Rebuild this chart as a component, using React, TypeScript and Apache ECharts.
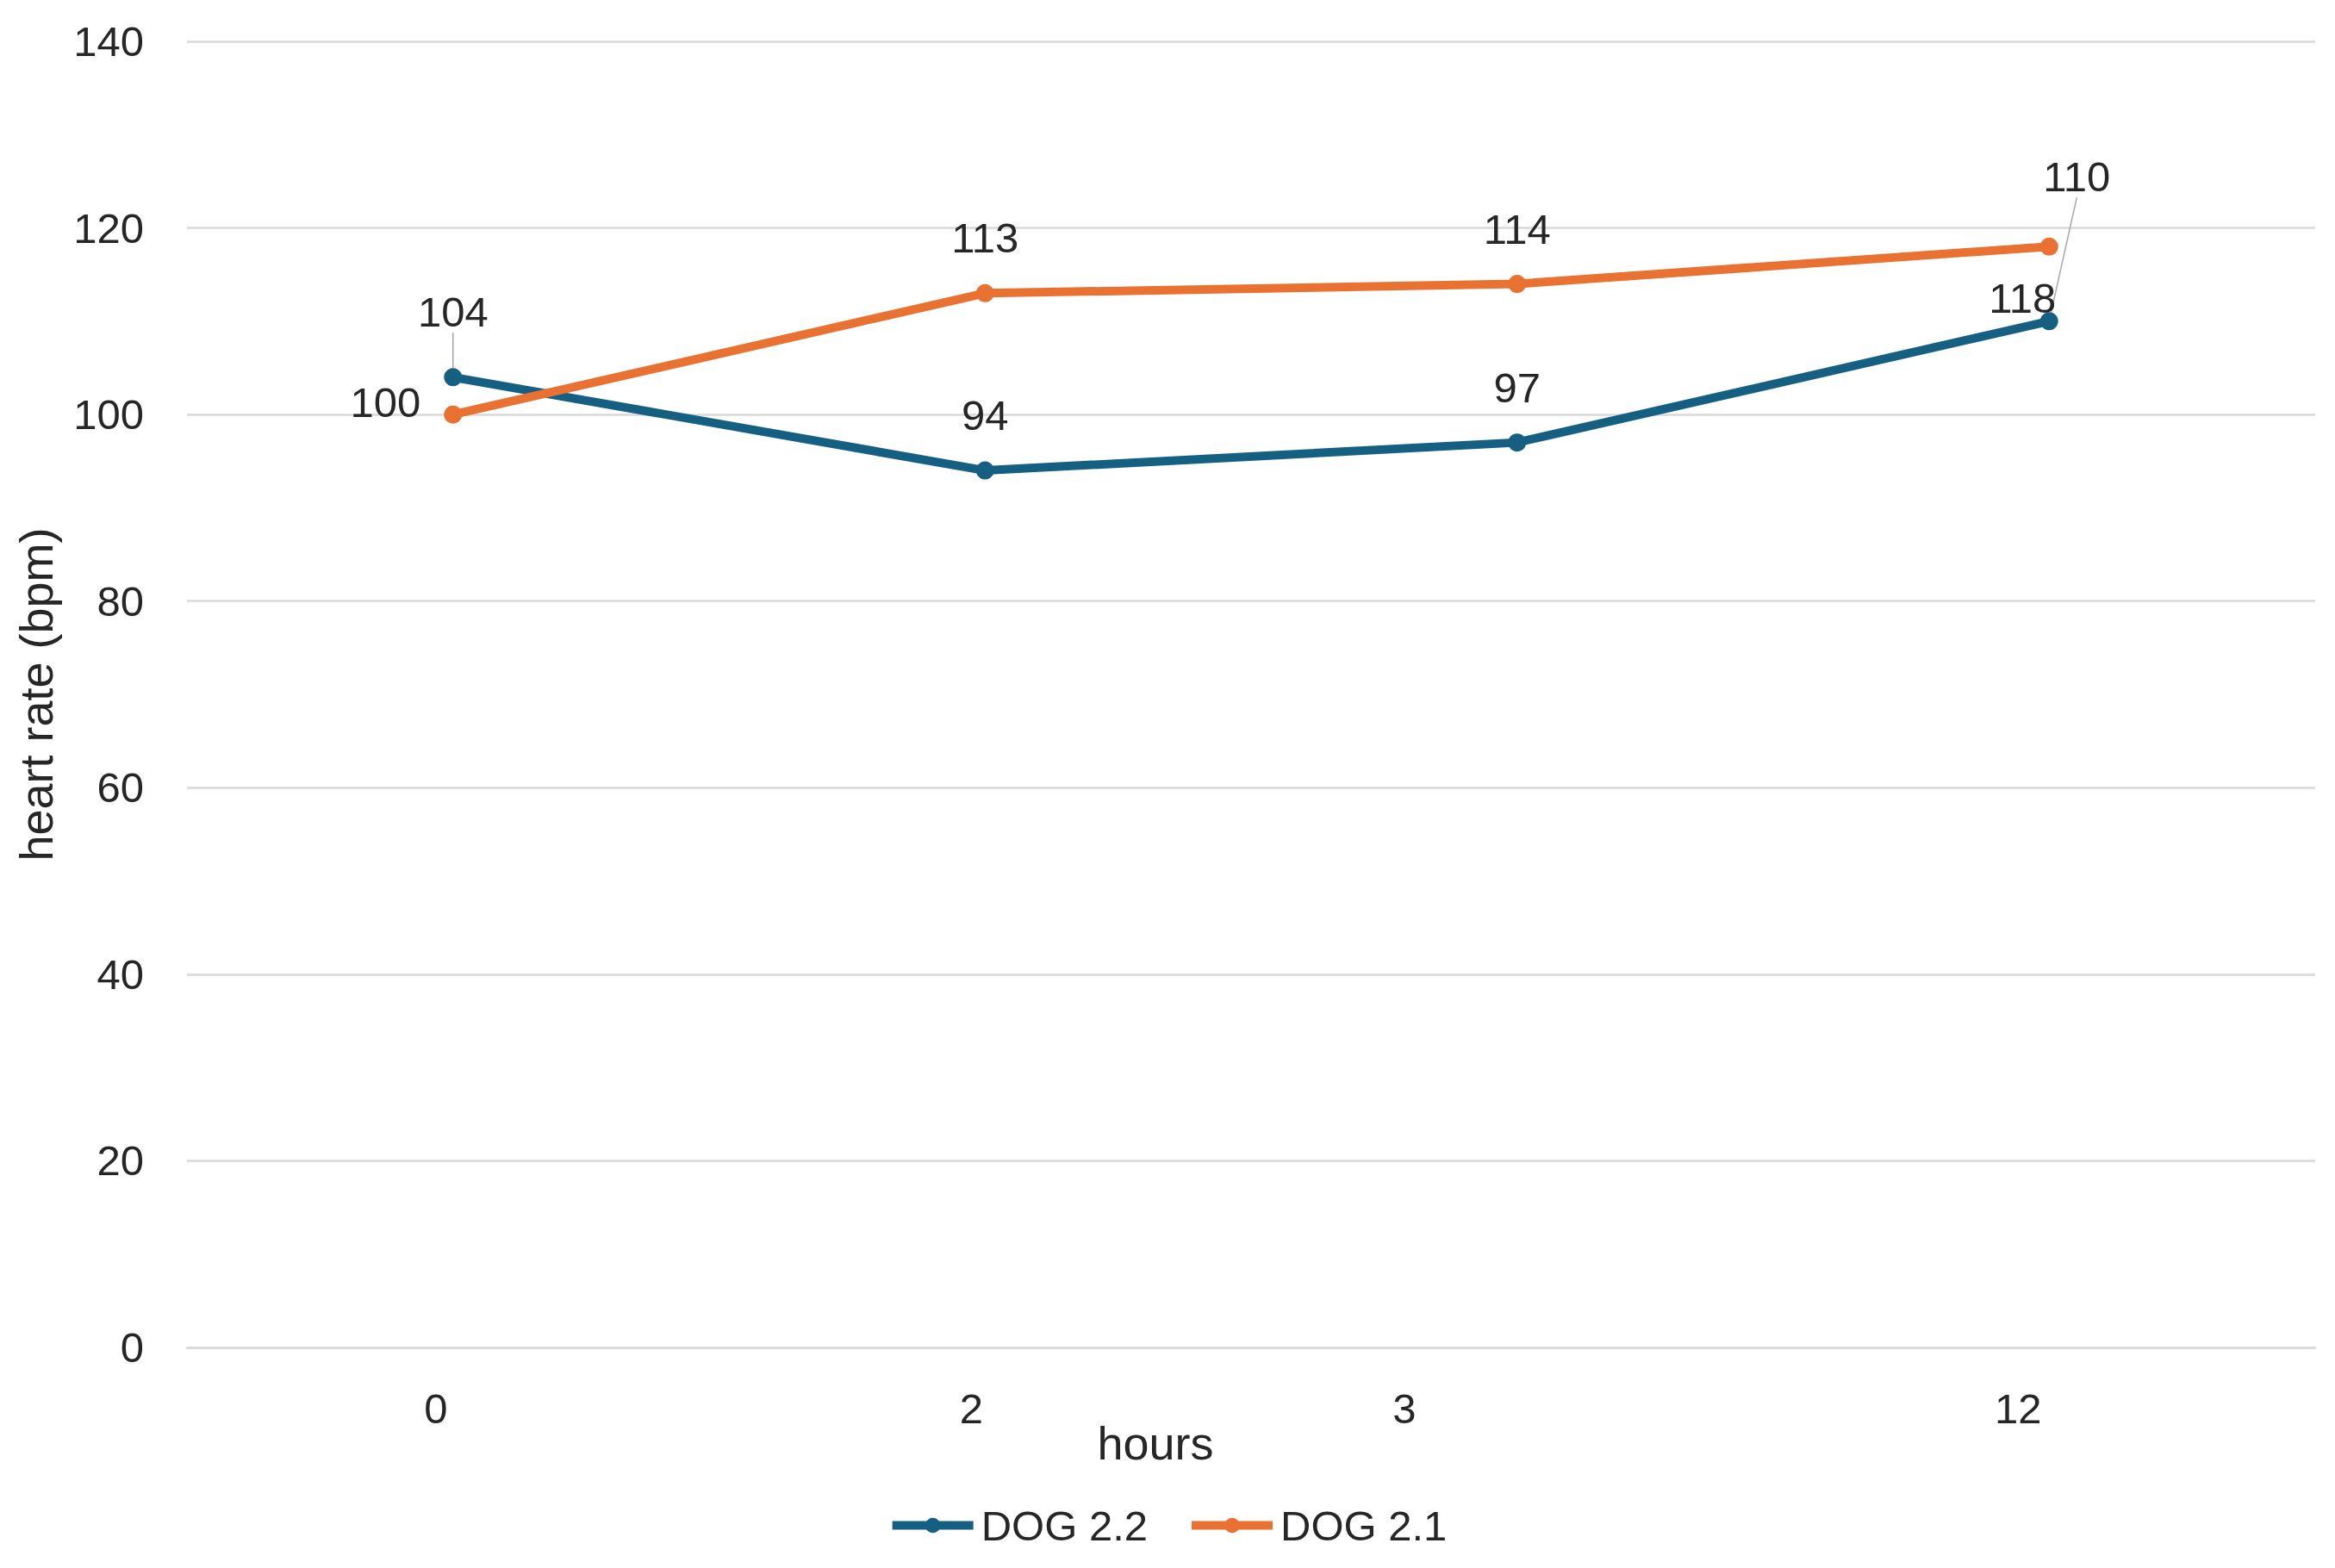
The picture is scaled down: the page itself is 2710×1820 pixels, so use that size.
import React, { useEffect, useRef } from "react";
import * as echarts from "echarts";

const hours = ["0", "2", "3", "12"];
const dog22 = [104, 94, 97, 110];
const dog21 = [100, 113, 114, 118];
const seriesNames = ["DOG 2.2", "DOG 2.1"];

const FONT = "Liberation Sans";
const TEXT = "#262626";

export default function App() {
  const ref = useRef<HTMLDivElement>(null);
  useEffect(() => {
    document.body.style.margin = "0";
    const chart = echarts.init(ref.current!, null, { renderer: "svg" });
    const xShift = [40, 32, 262, 72];
    const rich: any = {};
    xShift.forEach((p, i) => {
      rich["l" + i] = { fontSize: 49, fontFamily: FONT, color: TEXT, padding: [0, p, 0, 0] };
    });
    const leader = { show: true, lineStyle: { color: "#a6a6a6", width: 1.5 } };
    const option: any = {
      animation: false,
      backgroundColor: "#ffffff",
      textStyle: { fontFamily: FONT },
      grid: { left: 217, right: 23, top: 48, bottom: 256 },
      xAxis: {
        type: "category",
        data: hours,
        boundaryGap: true,
        axisLine: { show: true, lineStyle: { color: "#d9d9d9", width: 2.5 } },
        axisTick: { show: false },
        axisLabel: {
          margin: 46,
          formatter: (v: string, i: number) => `{l${i}|${v}}`,
          rich,
        },
        name: "hours",
        nameLocation: "middle",
        nameGap: 84,
        nameMoveOverlap: false,
        nameTextStyle: { fontSize: 54, fontFamily: FONT, color: TEXT, padding: [0, 222, 0, 0] },
      },
      yAxis: {
        type: "value",
        min: 0,
        max: 140,
        interval: 20,
        axisLine: { show: false },
        axisTick: { show: false },
        splitLine: { lineStyle: { color: "#d9d9d9", width: 2.5 } },
        axisLabel: { fontSize: 49, fontFamily: FONT, color: TEXT, margin: 50 },
        name: "heart rate (bpm)",
        nameLocation: "middle",
        nameGap: 148,
        nameMoveOverlap: false,
        nameTextStyle: { fontSize: 54, fontFamily: FONT, color: TEXT },
      },
      legend: {
        bottom: 20,
        left: "center",
        itemWidth: 94,
        itemHeight: 22,
        itemGap: 46,
        lineStyle: { width: 10 },
        textStyle: { fontSize: 49, fontFamily: FONT, color: TEXT, padding: [0, 0, 0, 4] },
        data: seriesNames,
      },
      series: [
        {
          name: seriesNames[0],
          type: "line",
          data: dog22.map((v, i) =>
            i === 0 || i === 3 ? { value: v, labelLine: leader } : v
          ),
          color: "#156082",
          symbol: "circle",
          symbolSize: 21,
          lineStyle: { width: 10 },
          label: {
            show: true,
            position: "top",
            distance: 29,
            fontSize: 49,
            fontFamily: FONT,
            color: TEXT,
          },
          labelLine: { show: false },
          labelLayout: (p: any) => {
            if (p.dataIndex === 0) return { dy: -12 };
            if (p.dataIndex === 3) return { dx: 32, dy: -104 };
            return {};
          },
        },
        {
          name: seriesNames[1],
          type: "line",
          data: dog21.map((v, i) => {
            if (i === 0)
              return { value: v, label: { position: "left", distance: 27, offset: [0, -14] } };
            if (i === 3)
              return { value: v, label: { position: "bottom", distance: 25, offset: [-31, 0] } };
            return v;
          }),
          color: "#E97132",
          symbol: "circle",
          symbolSize: 21,
          lineStyle: { width: 10 },
          label: {
            show: true,
            position: "top",
            distance: 29,
            fontSize: 49,
            fontFamily: FONT,
            color: TEXT,
          },
        },
      ],
    };
    chart.setOption(option);
    return () => chart.dispose();
  }, []);
  return (
    <div
      ref={ref}
      style={{ position: "fixed", left: 0, top: 0, width: 2710, height: 1820 }}
    />
  );
}
